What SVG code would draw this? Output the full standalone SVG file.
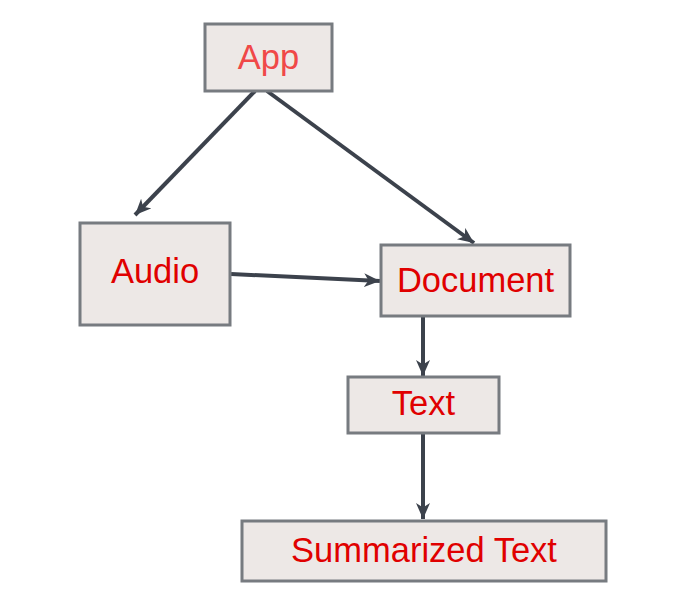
<svg xmlns="http://www.w3.org/2000/svg" width="681" height="613" viewBox="0 0 681 613">
<defs>
<style>
.box{fill:#ede8e6;stroke:#777b80;stroke-width:3}
.lbl{font-family:"Liberation Sans",Arial,sans-serif;font-size:34.5px;fill:#e00000;text-anchor:middle}
.edge{stroke:#3c424c;stroke-width:4;fill:none;marker-end:url(#ah)}
</style>
<marker id="ah" markerUnits="userSpaceOnUse" markerWidth="18" markerHeight="16" viewBox="0 0 18 16" refX="16" refY="8" orient="auto">
<path d="M0,1 L16,8 L0,15 L4.5,8 z" fill="#3c424c"/>
</marker>
</defs>
<rect width="681" height="613" fill="#ffffff"/>
<g id="connectors">
<line class="edge" x1="255" y1="91" x2="135" y2="215"/>
<line class="edge" x1="267" y1="91" x2="474" y2="243"/>
<line class="edge" x1="231" y1="274" x2="380" y2="281"/>
<line class="edge" x1="423" y1="317" x2="423" y2="376"/>
<line class="edge" x1="423" y1="434" x2="423" y2="519"/>
</g>
<g id="app">
<rect class="box" x="205" y="24" width="127" height="67"/>
<text class="lbl" x="268.5" y="69" style="fill:#f04848">App</text>
</g>
<g id="audio">
<rect class="box" x="80" y="223" width="150" height="102"/>
<text class="lbl" x="155" y="283">Audio</text>
</g>
<g id="document">
<rect class="box" x="381" y="245" width="189" height="71"/>
<text class="lbl" x="475.5" y="292">Document</text>
</g>
<g id="text">
<rect class="box" x="348" y="377" width="151" height="56"/>
<text class="lbl" x="423.5" y="415">Text</text>
</g>
<g id="summarized">
<rect class="box" x="242" y="521" width="364" height="60"/>
<text class="lbl" x="424" y="562">Summarized Text</text>
</g>
</svg>
